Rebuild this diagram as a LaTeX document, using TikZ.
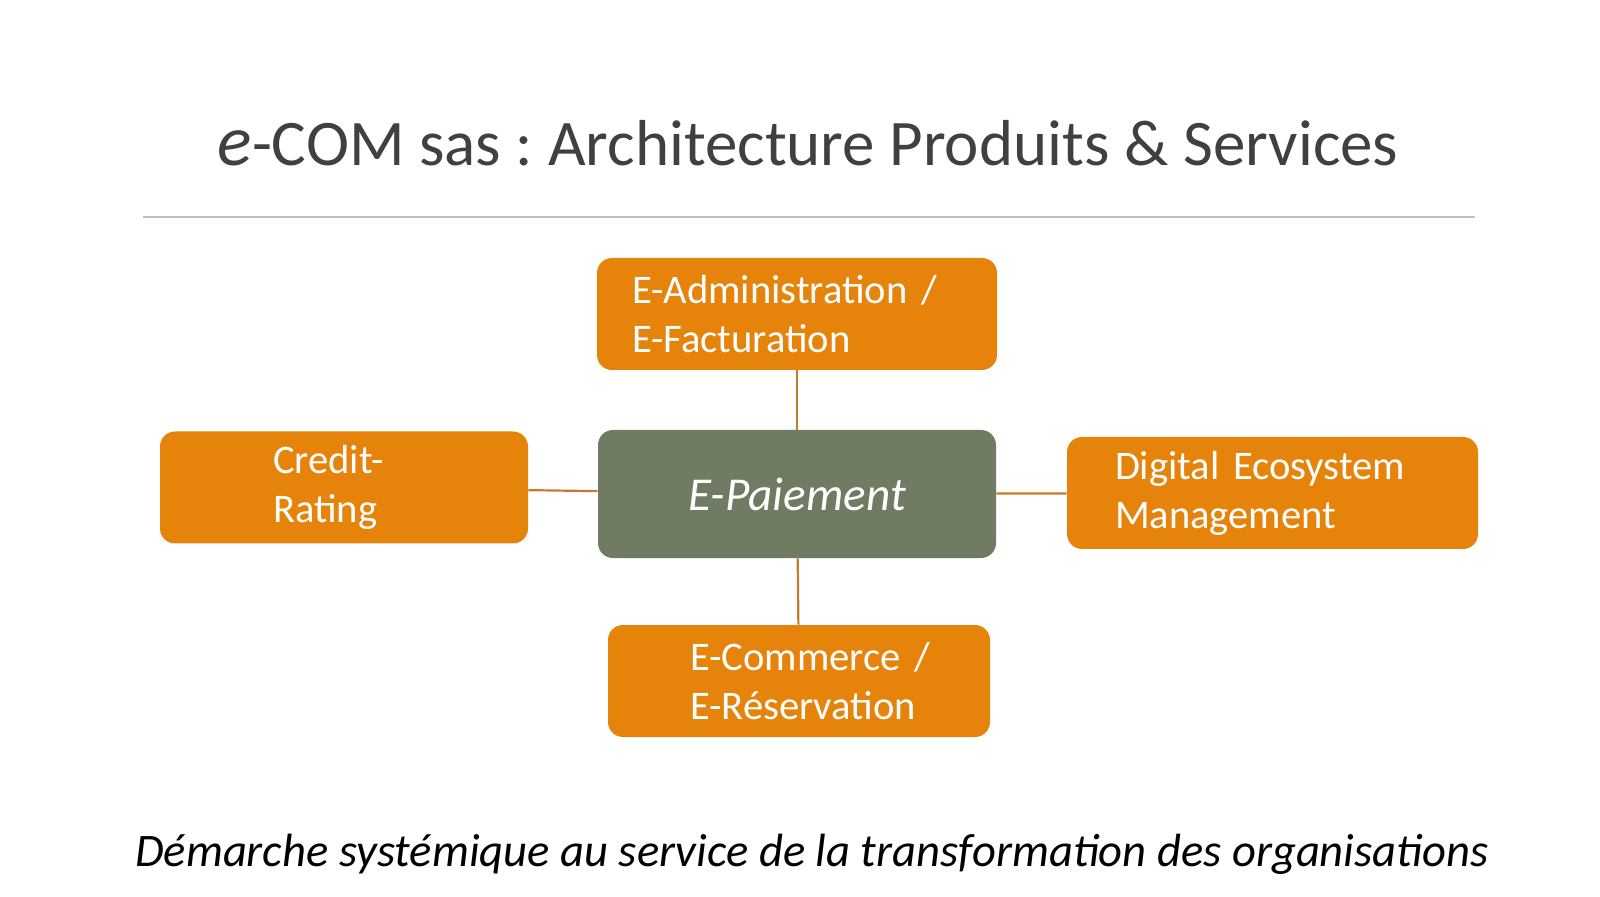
\documentclass[tikz,border=0pt]{standalone}
\usepackage{fontspec}
\setmainfont{Carlito}
\frenchspacing
\usetikzlibrary{positioning}
\definecolor{boxorange}{HTML}{E6830A}
\definecolor{boxgreen}{HTML}{6F7B62}
\definecolor{linkbrown}{HTML}{C77A2C}
\definecolor{titlegray}{HTML}{404040}
\definecolor{rulegray}{HTML}{BFBFBF}

\begin{document}
\begin{tikzpicture}[x=0.5pt, y=-0.5pt,
	obox/.style={fill=boxorange, text=white, rounded corners=7.5pt, align=left,
		minimum height=56pt, inner ysep=2pt, font=\fontsize{20.3}{24.5}\selectfont},
	gbox/.style={fill=boxgreen, text=white, rounded corners=7.5pt,
		minimum width=199pt, minimum height=64pt, font=\fontsize{23.6}{28}\selectfont\itshape},
	link/.style={draw=linkbrown, line width=1.1pt}]
	\useasboundingbox (0,0) rectangle (1600,897);

	% Title and rule
	\node[anchor=base, text=titlegray, font=\fontsize{32.5}{40}\selectfont] (title) at (808,166)
		{{\fontsize{36}{40}\selectfont\itshape e}-COM sas : Architecture Produits \& Services};
	\coordinate (ruleL) at (143,217);
	\coordinate (ruleR) at (1475,217);
	\draw[rulegray, line width=1pt] (ruleL) -- (ruleR);

	% Centre box
	\node[gbox] (pay) at (797,494) {E-Paiement};

	% Outer boxes
	\node[obox, text width=165pt, inner xsep=17.5pt] (admin) at (797,314) {E-Administration /\\E-Facturation};
	\node[obox, text width=71pt, inner xsep=56.5pt] (credit) at (344,487.5) {Credit-\\Rating};
	\node[obox, text width=157.5pt, inner xsep=24pt] (digital) at (1272.5,493) {Digital Ecosystem\\Management};
	\node[obox, text width=109pt, inner xsep=41pt] (commerce) at (799,681) {\mbox{E-Commerce /}\\\mbox{E-Réservation}};

	% Links
	\draw[link] (admin) -- (pay);
	\draw[link] (pay) -- (commerce);
	\draw[link] (credit) -- (pay);
	\draw[link] (pay) -- (digital);

	% Motto
	\node[anchor=base, font=\fontsize{23.3}{27}\selectfont\itshape] (motto) at (812,866)
		{Démarche systémique au service de la transformation des organisations};
\end{tikzpicture}
\end{document}
